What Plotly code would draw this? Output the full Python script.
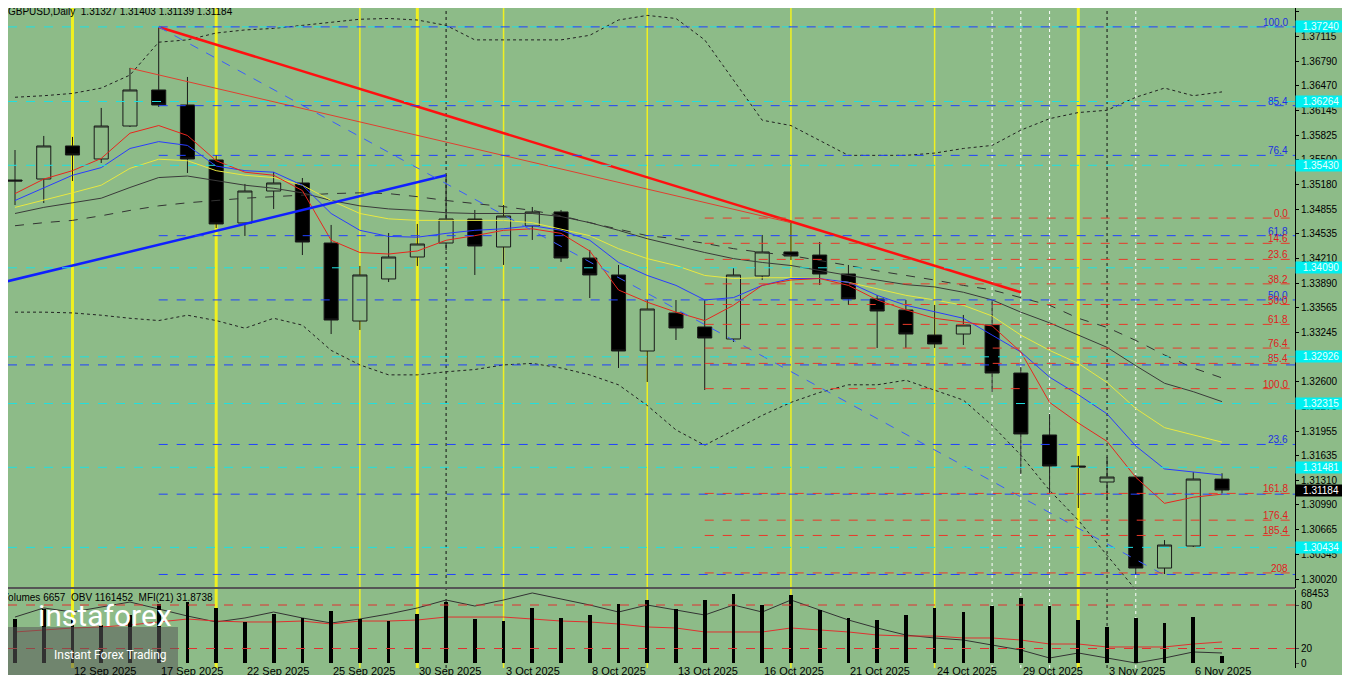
import plotly.graph_objects as go

# GBPUSD daily candles, 10 Sep - 7 Nov 2025
dates = ["10 Sep", "11 Sep", "12 Sep", "15 Sep", "16 Sep", "17 Sep", "18 Sep", "19 Sep", "22 Sep", "23 Sep",
         "24 Sep", "25 Sep", "26 Sep", "29 Sep", "30 Sep", "1 Oct", "2 Oct", "3 Oct", "6 Oct", "7 Oct",
         "8 Oct", "9 Oct", "10 Oct", "13 Oct", "14 Oct", "15 Oct", "16 Oct", "17 Oct", "20 Oct", "21 Oct",
         "22 Oct", "23 Oct", "24 Oct", "27 Oct", "28 Oct", "29 Oct", "30 Oct", "31 Oct", "3 Nov", "4 Nov",
         "5 Nov", "6 Nov", "7 Nov"]
opens = [1.35238, 1.35251, 1.35683, 1.35513, 1.35944, 1.36415, 1.36219, 1.35500, 1.34676, 1.35094,
         1.35199, 1.34414, 1.33394, 1.33944, 1.34231, 1.34414, 1.34728, 1.34362, 1.34637, 1.34820,
         1.34218, 1.33996, 1.33002, 1.33499, 1.33316, 1.33159, 1.33983, 1.34297, 1.34257, 1.34009,
         1.33682, 1.33538, 1.33211, 1.33224, 1.33342, 1.32714, 1.31904, 1.31498, 1.31289, 1.31354,
         1.30164, 1.30452, 1.31327]
highs = [1.35630, 1.35814, 1.35801, 1.36180, 1.36703, 1.37239, 1.36585, 1.35565, 1.35186, 1.35343,
         1.35264, 1.34650, 1.34114, 1.34545, 1.34663, 1.35304, 1.34846, 1.34911, 1.34885, 1.34846,
         1.34323, 1.34127, 1.33669, 1.33669, 1.33669, 1.34087, 1.34519, 1.34689, 1.34427, 1.34127,
         1.33734, 1.33669, 1.33604, 1.33473, 1.33669, 1.32793, 1.32178, 1.31629, 1.31616, 1.31380,
         1.30530, 1.31419, 1.31403]
lows = [1.34911, 1.34937, 1.35225, 1.35460, 1.35931, 1.36193, 1.35330, 1.34610, 1.34506, 1.34859,
        1.34257, 1.33224, 1.33277, 1.33904, 1.34114, 1.34323, 1.33996, 1.34127, 1.34454, 1.34166,
        1.33695, 1.32780, 1.32597, 1.33146, 1.32492, 1.33120, 1.33931, 1.34192, 1.33865, 1.33604,
        1.33041, 1.33041, 1.33041, 1.33080, 1.32466, 1.31394, 1.31145, 1.30949, 1.31053, 1.30086,
        1.30086, 1.30439, 1.31139]
closes = [1.35225, 1.35683, 1.35565, 1.35944, 1.36415, 1.36219, 1.35513, 1.34663, 1.35094, 1.35199,
          1.34427, 1.33407, 1.33996, 1.34231, 1.34401, 1.34728, 1.34375, 1.34767, 1.34820, 1.34218,
          1.33996, 1.33002, 1.33551, 1.33303, 1.33172, 1.33996, 1.34297, 1.34244, 1.34009, 1.33682,
          1.33525, 1.33224, 1.33094, 1.33342, 1.32714, 1.31917, 1.31498, 1.31485, 1.31354, 1.30164,
          1.30465, 1.31328, 1.31184]

ma_red = [1.3506, 1.3525, 1.3536, 1.3552, 1.3585, 1.3595, 1.3582, 1.3549, 1.3534, 1.3530,
          1.3510, 1.3445, 1.3429, 1.3427, 1.3431, 1.3445, 1.3451, 1.3458, 1.3460, 1.3454,
          1.3431, 1.3380, 1.3364, 1.3351, 1.3340, 1.3360, 1.3386, 1.3393, 1.3395, 1.3386,
          1.3367, 1.3354, 1.3343, 1.3338, 1.3333, 1.3299, 1.3233, 1.3206, 1.3182, 1.3135,
          1.3101, 1.3109, 1.3113]
ma_blue = [1.3497, 1.3514, 1.3530, 1.3540, 1.3565, 1.3574, 1.3569, 1.3542, 1.3536, 1.3534,
           1.3517, 1.3480, 1.3458, 1.3450, 1.3449, 1.3454, 1.3458, 1.3460, 1.3464, 1.3458,
           1.3445, 1.3416, 1.3399, 1.3386, 1.3367, 1.3370, 1.3386, 1.3395, 1.3395, 1.3390,
           1.3373, 1.3360, 1.3351, 1.3343, 1.3321, 1.3299, 1.3266, 1.3243, 1.3218, 1.3176,
           1.3146, 1.3142, 1.3138]
ma_yellow = [1.3488, 1.3497, 1.3507, 1.3517, 1.3539, 1.3551, 1.3549, 1.3536, 1.3530, 1.3527,
             1.3517, 1.3497, 1.3480, 1.3473, 1.3471, 1.3471, 1.3471, 1.3471, 1.3468, 1.3460,
             1.3451, 1.3434, 1.3421, 1.3412, 1.3399, 1.3395, 1.3396, 1.3396, 1.3395, 1.3390,
             1.3382, 1.3373, 1.3367, 1.3360, 1.3346, 1.3321, 1.3301, 1.3284, 1.3259, 1.3225,
             1.3200, 1.3190, 1.3181]
ma_gray = [1.3480, 1.3488, 1.3494, 1.3500, 1.3514, 1.3527, 1.3529, 1.3523, 1.3517, 1.3513,
           1.3507, 1.3497, 1.3490, 1.3486, 1.3484, 1.3481, 1.3480, 1.3480, 1.3480, 1.3476,
           1.3468, 1.3458, 1.3447, 1.3438, 1.3429, 1.3421, 1.3416, 1.3412, 1.3405, 1.3399,
           1.3393, 1.3387, 1.3384, 1.3377, 1.3367, 1.3351, 1.3337, 1.3321, 1.3305, 1.3281,
           1.3258, 1.3247, 1.3234]
band_up = [1.3632, 1.3634, 1.3637, 1.3644, 1.3661, 1.3704, 1.3707, 1.3716, 1.3720, 1.3722,
           1.3726, 1.3730, 1.3734, 1.3735, 1.3733, 1.3726, 1.3707, 1.3707, 1.3707, 1.3707,
           1.3713, 1.3733, 1.3739, 1.3735, 1.3707, 1.3654, 1.3602, 1.3595, 1.3576, 1.3556,
           1.3556, 1.3556, 1.3559, 1.3565, 1.3569, 1.3589, 1.3604, 1.3612, 1.3615, 1.3632,
           1.3644, 1.3634, 1.3639]
band_mid = [1.3464, 1.3468, 1.3471, 1.3477, 1.3484, 1.3490, 1.3494, 1.3497, 1.3500, 1.3502,
            1.3504, 1.3506, 1.3507, 1.3506, 1.3502, 1.3497, 1.3493, 1.3489, 1.3484, 1.3477,
            1.3468, 1.3460, 1.3451, 1.3447, 1.3441, 1.3434, 1.3429, 1.3425, 1.3418, 1.3412,
            1.3405, 1.3399, 1.3393, 1.3386, 1.3380, 1.3370, 1.3360, 1.3343, 1.3331, 1.3314,
            1.3295, 1.3278, 1.3265]
band_low = [1.3351, 1.3351, 1.3350, 1.3347, 1.3343, 1.3340, 1.3347, 1.3340, 1.3330, 1.3343,
            1.3334, 1.3301, 1.3282, 1.3269, 1.3269, 1.3273, 1.3276, 1.3282, 1.3284, 1.3278,
            1.3269, 1.3256, 1.3229, 1.3197, 1.3177, 1.3197, 1.3216, 1.3233, 1.3246, 1.3256,
            1.3256, 1.3262, 1.3249, 1.3236, 1.3203, 1.3164, 1.3118, 1.3079, 1.3033, 1.2988,
            None, None, None]

volumes = [43032, 52812, 44010, 37164, 46944, 57702, 59658, 53790, 40098, 47922,
           44010, 50856, 43032, 41076, 47922, 59658, 43032, 41076, 53790, 44010,
           46944, 57702, 61614, 52812, 61614, 67482, 56724, 66504, 51834, 44010,
           42054, 46944, 53790, 49878, 55746, 63570, 55746, 42054, 35208, 44010,
           39120, 44988, 6657]
obv_scaled = [63.4, 75.9, 70.3, 77.2, 84.1, 74.5, 64.8, 56.6, 62.1, 70.3,
              62.1, 55.2, 60.7, 67.6, 75.9, 86.9, 78.6, 86.9, 96.6, 88.3,
              80.0, 70.3, 80.0, 73.1, 66.2, 80.0, 70.3, 86.9, 73.1, 59.3,
              48.3, 38.6, 34.5, 31.7, 24.8, 17.9, 6.9, 13.8, 6.9, 0.0,
              6.9, 15.2, 13.8]
mfi = [42.8, 45.5, 48.3, 49.7, 52.4, 56.6, 60.7, 57.9, 56.6, 56.6,
       57.9, 53.8, 57.9, 57.9, 59.3, 63.4, 63.4, 63.4, 60.7, 57.9,
       56.6, 53.8, 49.7, 48.3, 42.8, 42.8, 42.8, 48.3, 45.5, 42.8,
       38.6, 37.2, 37.2, 34.5, 34.5, 31.7, 26.2, 26.2, 22.1, 22.1,
       22.1, 26.2, 29.0]

price_ticks = [1.37435, 1.37115, 1.36790, 1.36470, 1.36145, 1.35825, 1.35500, 1.35180, 1.34855,
               1.34535, 1.34210, 1.33890, 1.33565, 1.33245, 1.32920, 1.32600, 1.32275, 1.31955,
               1.31635, 1.31310, 1.30990, 1.30665, 1.30345, 1.30020]
blue_levels = [1.37240, 1.3621, 1.3556, 1.3451, 1.3367, 1.3282, 1.3178, 1.3113, 1.3008]
blue_labels = ["100.0", "85.4", "76.4", "61.8", "50.0", "", "23.6", "", ""]
red_levels = [1.3474, 1.3441, 1.3420, 1.3388, 1.3361, 1.3335, 1.3304, 1.3284, 1.3251, 1.3114, 1.3079, 1.3059, 1.3010]
red_labels = ["0.0", "14.6", "23.6", "38.2", "50.0", "61.8", "76.4", "85.4", "100.0", "161.8", "176.4", "185.4", "208"]
cyan_levels = [1.37240, 1.36264, 1.35430, 1.34090, 1.32926, 1.32315, 1.31481, 1.30434]
date_ticks = [0, 3, 6, 9, 12, 15, 18, 21, 24, 27, 30, 33, 36, 39, 42]
date_labels = ["9 Sep 2025", "12 Sep 2025", "17 Sep 2025", "22 Sep 2025", "25 Sep 2025", "30 Sep 2025",
               "3 Oct 2025", "8 Oct 2025", "13 Oct 2025", "16 Oct 2025", "21 Oct 2025", "24 Oct 2025",
               "29 Oct 2025", "3 Nov 2025", "6 Nov 2025"]

BG = "#8DBB88"
idx = list(range(1, len(dates) + 1))
XMIN, XMAX = 0.756, 45.54
MAIN_BOT = 80 / 660
LOW_TOP = 78 / 660

fig = go.Figure()
fig.add_trace(go.Candlestick(
    x=idx, open=opens, high=highs, low=lows, close=closes, text=dates,
    increasing=dict(fillcolor=BG, line=dict(color="#1a1a1a", width=1)),
    decreasing=dict(fillcolor="black", line=dict(color="#1a1a1a", width=1)),
    whiskerwidth=0, showlegend=False, xaxis="x", yaxis="y"))

for vals, col, dash in [(band_up, "#222", "dot"), (band_mid, "#333", "dash"), (band_low, "#222", "dot"),
                        (ma_gray, "#3a3a3a", "solid"), (ma_yellow, "#e8e840", "solid"),
                        (ma_blue, "#2a3cff", "solid"), (ma_red, "#e8261e", "solid")]:
    fig.add_trace(go.Scatter(x=idx, y=vals, mode="lines", line=dict(color=col, width=1, dash=dash),
                             showlegend=False, hoverinfo="skip"))

# trend lines
fig.add_trace(go.Scatter(x=[6, 36], y=[highs[5], 1.3377], mode="lines",
                         line=dict(color="#ff1010", width=2.5), showlegend=False))
fig.add_trace(go.Scatter(x=[5, 28], y=[1.3670, 1.3468], mode="lines",
                         line=dict(color="#e04030", width=1), showlegend=False))
fig.add_trace(go.Scatter(x=[0.478, 16], y=[1.3389, 1.3530], mode="lines",
                         line=dict(color="#1020ff", width=2.5), showlegend=False, cliponaxis=True))
fig.add_trace(go.Scatter(x=[6, 41], y=[highs[5], 1.3007], mode="lines",
                         line=dict(color="#3a5cff", width=1, dash="dash"), showlegend=False))

# lower panel
fig.add_trace(go.Bar(x=idx, y=volumes, marker=dict(color="black", line_width=0), width=0.13,
                     xaxis="x2", yaxis="y3", showlegend=False))
fig.add_trace(go.Scatter(x=idx, y=obv_scaled, mode="lines", line=dict(color="#333", width=1),
                         xaxis="x2", yaxis="y2", showlegend=False))
fig.add_trace(go.Scatter(x=idx, y=mfi, mode="lines", line=dict(color="#e03030", width=1),
                         xaxis="x2", yaxis="y2", showlegend=False))

shapes = []
for lv in cyan_levels:
    shapes.append(dict(type="line", xref="x", yref="y", x0=XMIN, x1=XMAX, y0=lv, y1=lv,
                       line=dict(color="#20e0e0", width=1, dash="dash")))
for i, lv in enumerate(blue_levels):
    shapes.append(dict(type="line", xref="x", yref="y", x0=XMIN if i == 5 else 6, x1=XMAX, y0=lv, y1=lv,
                       line=dict(color="#2040ff", width=1, dash="dash")))
for lv in red_levels:
    shapes.append(dict(type="line", xref="x", yref="y", x0=25, x1=XMAX, y0=lv, y1=lv,
                       line=dict(color="#e83a2a", width=1, dash="dash")))
for xi, w in [(3, 3), (8, 3), (13, 1.5), (15, 3), (18, 1.5), (23, 1.5), (28, 1.5), (33, 1.5), (38, 3)]:
    shapes.append(dict(type="line", xref="x", yref="paper", x0=xi, x1=xi, y0=0, y1=1,
                       line=dict(color="#f0f020", width=w), layer="below"))
for xi in [35, 36, 37, 40]:
    shapes.append(dict(type="line", xref="x", yref="paper", x0=xi, x1=xi, y0=0, y1=1,
                       line=dict(color="white", width=1, dash="dot"), layer="below"))
for xi in [16, 39]:
    shapes.append(dict(type="line", xref="x", yref="paper", x0=xi, x1=xi, y0=0, y1=1,
                       line=dict(color="#111", width=1, dash="dot"), layer="below"))
for lv in [80, 20]:
    shapes.append(dict(type="line", xref="x2", yref="y2", x0=XMIN, x1=XMAX, y0=lv, y1=lv,
                       line=dict(color="#e03030", width=1, dash="dash")))
shapes.append(dict(type="line", xref="paper", yref="paper", x0=0, x1=1, y0=MAIN_BOT, y1=MAIN_BOT,
                   line=dict(color="#555", width=2)))
shapes.append(dict(type="rect", xref="paper", yref="paper", x0=0, x1=170 / 1287, y0=-0.012, y1=0.062,
                   fillcolor="rgba(90,90,90,0.55)", line_width=0))

F = "Liberation Sans"
ann = []
for lv, lb in zip(blue_levels, blue_labels):
    if lb:
        ann.append(dict(x=45.35, y=lv, xref="x", yref="y", text=lb, showarrow=False, xanchor="right",
                        yanchor="bottom", yshift=-3, font=dict(family=F, size=10, color="#2030e0")))
for lv, lb in zip(red_levels, red_labels):
    ann.append(dict(x=45.35, y=lv, xref="x", yref="y", text=lb, showarrow=False, xanchor="right",
                    yanchor="bottom", yshift=-3, font=dict(family=F, size=10, color="#e02020")))
for lv in cyan_levels:
    ann.append(dict(x=1, y=lv, xref="paper", yref="y", text="%.5f" % lv, showarrow=False, xanchor="left",
                    bgcolor="#00f0f0", font=dict(family=F, size=10, color="#e8ffff"), width=50, borderpad=0))
ann.append(dict(x=1, y=closes[-1], xref="paper", yref="y", text="%.5f" % closes[-1], showarrow=False,
                xanchor="left", bgcolor="black", font=dict(family=F, size=10, color="white"), width=50, borderpad=0))
for t, lb in zip(date_ticks, date_labels):
    ann.append(dict(x=t, y=0, xref="x2", yref="paper", text=lb, showarrow=False, xanchor="left",
                    yanchor="top", yshift=5, font=dict(family=F, size=11, color="black")))
ann.append(dict(x=0, y=1, xref="paper", yref="paper", text="GBPUSD,Daily  1.31327 1.31403 1.31139 1.31184",
                showarrow=False, xanchor="left", yanchor="top", yshift=4, xshift=-2,
                font=dict(family=F, size=10, color="black")))
ann.append(dict(x=0, y=LOW_TOP, xref="paper", yref="paper", text="Volumes 6657  OBV 1161452  MFI(21) 31.8738",
                showarrow=False, xanchor="left", yanchor="top", xshift=-8,
                font=dict(family=F, size=10, color="black")))
ann.append(dict(x=1, y=68453, xref="paper", yref="y3", text="68453", showarrow=False, xanchor="left",
                xshift=4, font=dict(family=F, size=10, color="black")))
ann.append(dict(x=0.022, y=0.05, xref="paper", yref="paper", text="instaforex", showarrow=False,
                xanchor="left", font=dict(family="Roboto", size=30, color="white")))
ann.append(dict(x=0.034, y=0.006, xref="paper", yref="paper", text="Instant Forex Trading", showarrow=False,
                xanchor="left", font=dict(family="Roboto", size=12, color="white")))

fig.update_layout(
    width=1350, height=667, margin=dict(l=0, r=63, t=0, b=7, autoexpand=False),
    paper_bgcolor=BG, plot_bgcolor=BG, shapes=shapes, annotations=ann,
    xaxis=dict(range=[XMIN, XMAX], domain=[0, 1], showticklabels=False, showgrid=False, zeroline=False,
               rangeslider=dict(visible=False), anchor="y", automargin=False),
    yaxis=dict(range=[1.29903, 1.37487], domain=[MAIN_BOT, 1], side="right", tickvals=price_ticks,
               ticktext=["%.5f" % v for v in price_ticks], showgrid=False, zeroline=False,
               showline=True, linecolor="black", ticks="outside", ticklen=3, tickcolor="black",
               tickfont=dict(family=F, size=10, color="black"), automargin=False),
    xaxis2=dict(range=[XMIN, XMAX], domain=[0, 1], showticklabels=False, showgrid=False, zeroline=False,
                anchor="y2", automargin=False),
    yaxis2=dict(range=[-6.9, 100.7], domain=[0, LOW_TOP], side="right", tickvals=[0, 20, 80],
                showgrid=False, zeroline=False, showline=True, linecolor="black", ticks="outside",
                ticklen=3, tickfont=dict(family=F, size=10, color="black"), anchor="x2", automargin=False),
    yaxis3=dict(range=[-4890, 71394], overlaying="y2", visible=False, anchor="x2"),
    bargap=0,
)
fig.write_html("out.html")
